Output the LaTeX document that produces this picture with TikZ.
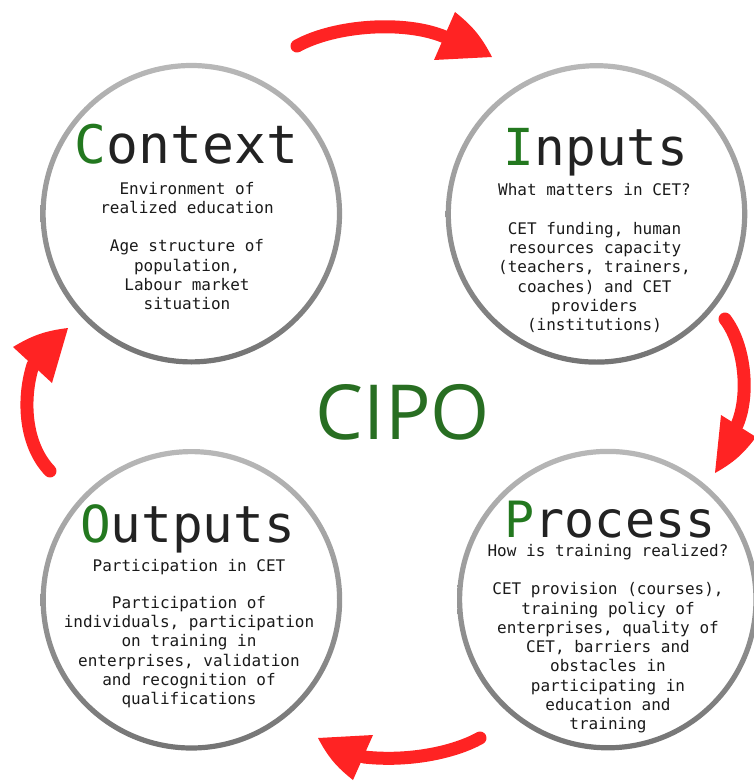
\documentclass[tikz,border=0pt]{standalone}
\usepackage{fontspec}
\setmonofont{DejaVu Sans Mono}
\newfontfamily\cipofont{Open Sans}
\definecolor{arrowred}{HTML}{FF2323}
\definecolor{titlegreen}{HTML}{23781F}
\definecolor{cipogreen}{HTML}{286E22}
\definecolor{titlegray}{HTML}{222222}
\definecolor{bodyblack}{HTML}{1A1A1A}
\definecolor{ringtop}{HTML}{B8B8B8}
\definecolor{ringbot}{HTML}{747474}
\begin{document}
\begin{tikzpicture}[x=1pt,y=-1pt]
\useasboundingbox (0,0) rectangle (754,781);
\tikzset{
  holder/.style={circle, minimum size=296pt, inner sep=0pt, draw=none},
  ring/.style={even odd rule, top color=ringtop, bottom color=ringbot},
  titletext/.style={anchor=base, inner sep=0pt, text=titlegray},
  bodytext/.style={anchor=base, inner sep=0pt, align=center, text=bodyblack,
    font=\ttfamily\fontsize{16}{19.25}\selectfont},
  shaft/.style={draw=arrowred, line width=13pt, line cap=round},
  headfill/.style={fill=arrowred, draw=none},
}
% circles
\node[holder] (ctx) at (191.3,213.7) {};
\node[holder] (inp) at (596.5,213.9) {};
\node[holder] (out) at (191.4,599.8) {};
\node[holder] (pro) at (607.8,599.6) {};
\foreach \c in {ctx,inp,out,pro}{
  \shade[ring] (\c.center) circle (150.8pt) (\c.center) circle (145.6pt);
}
% titles
\node[titletext, font=\ttfamily\fontsize{53}{53}\selectfont] (ctxT) at (186.5,163) {\textcolor{titlegreen}{C}ontext};
\node[titletext, font=\ttfamily\fontsize{51}{51}\selectfont] (inpT) at (596,165) {\textcolor{titlegreen}{I}nputs};
\node[titletext, font=\ttfamily\fontsize{51}{51}\selectfont] (outT) at (187.5,542) {\textcolor{titlegreen}{O}utputs};
\node[titletext, font=\ttfamily\fontsize{50}{50}\selectfont] (proT) at (610,537) {\textcolor{titlegreen}{P}rocess};
% texts (anchor = baseline of the last line)
\node[bodytext] (ctxS) at (187,213.6) {Environment of\\realized education};
\node[bodytext] (ctxB) at (187,309.6) {Age structure of\\population,\\Labour market\\situation};
\node[bodytext] (inpS) at (594.5,195.7) {What matters in CET?};
\node[bodytext] (inpB) at (594.5,330.5) {CET funding, human\\resources capacity\\(teachers, trainers,\\coaches) and CET\\providers\\(institutions)};
\node[bodytext] (outS) at (189,571.7) {Participation in CET};
\node[bodytext] (outB) at (189,704.5) {Participation of\\individuals, participation\\on training in\\enterprises, validation\\and recognition of\\qualifications};
\node[bodytext] (proS) at (608,556.7) {How is training realized?};
\node[bodytext] (proB) at (608,729.7) {CET provision (courses),\\training policy of\\enterprises, quality of\\CET, barriers and\\obstacles in\\participating in\\education and\\training};
% centre label
\node[inner sep=0pt, text=cipogreen, font=\cipofont\fontsize{76}{76}\selectfont] (cipo) at (403,412) {CIPO};
% arrows: top
\coordinate (t0) at (297,46); \coordinate (t1) at (445,37);
\coordinate (tA) at (455,12); \coordinate (tT) at (492,57); \coordinate (tB) at (434,60);
\draw[shaft] (t0) .. controls (335,25) and (405,20) .. (t1);
\fill[headfill] (tA) to[bend left=12] (tT) -- (tB) -- cycle;
% right
\coordinate (r0) at (725,319); \coordinate (r1) at (737,425);
\coordinate (rA) at (756,437); \coordinate (rT) at (715,473); \coordinate (rB) at (721,415);
\draw[shaft] (r0) .. controls (745,345) and (750,395) .. (r1);
\fill[headfill] (rA) to[bend left=12] (rT) -- (rB) -- cycle;
% bottom
\coordinate (b0) at (480,738); \coordinate (b1) at (364,757);
\coordinate (bA) at (353,780); \coordinate (bT) at (318,738); \coordinate (bB) at (373,735);
\draw[shaft] (b0) .. controls (455,752) and (410,762) .. (b1);
\fill[headfill] (bA) to[bend left=12] (bT) -- (bB) -- cycle;
% left
\coordinate (l0) at (50,471); \coordinate (l1) at (33,365);
\coordinate (lA) at (13,347); \coordinate (lT) at (68,328); \coordinate (lB) at (52,383);
\draw[shaft] (l0) .. controls (25,445) and (22,400) .. (l1);
\fill[headfill] (lA) to[bend left=12] (lT) -- (lB) -- cycle;
\end{tikzpicture}
\end{document}
